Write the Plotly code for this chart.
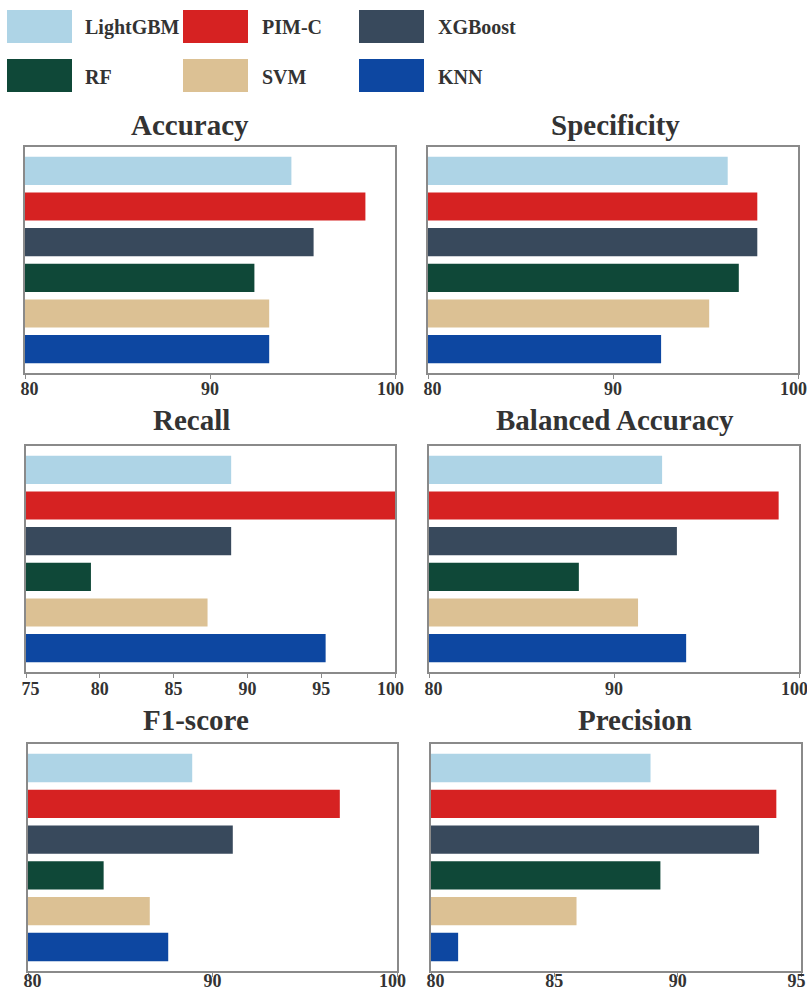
import plotly.graph_objects as go

FW, FH = 807, 992

models = ["LightGBM", "PIM-C", "XGBoost", "RF", "SVM", "KNN"]
colors = ["#AED4E6", "#D62222", "#38495C", "#0F4838", "#DCC194", "#0D47A1"]

metrics = ["Accuracy", "Specificity", "Recall", "Balanced Accuracy", "F1-score", "Precision"]
accuracy = [94.4, 98.4, 95.6, 92.4, 93.2, 93.2]
specificity = [96.2, 97.8, 97.8, 96.8, 95.2, 92.6]
recall = [88.9, 100.0, 88.9, 79.4, 87.3, 95.3]
balanced_accuracy = [92.6, 98.9, 93.4, 88.1, 91.3, 93.9]
f1_score = [88.9, 96.9, 91.1, 84.1, 86.6, 87.6]
precision = [88.9, 94.0, 93.3, 89.3, 85.9, 81.1]
series = [accuracy, specificity, recall, balanced_accuracy, f1_score, precision]

tick_values = [
    [80, 90, 100], [80, 90, 100],
    [75, 80, 85, 90, 95, 100], [80, 90, 100],
    [80, 90, 100], [80, 85, 90, 95],
]

# panel boxes in page pixels: (x0, x1, y0, y1)
boxes = [
    (25, 395, 147, 373), (428, 798, 147, 373),
    (26, 395, 446, 672), (429, 799, 446, 672),
    (28, 397, 744, 971), (431, 801, 744, 971),
]
label_standoff = [-5, -5, -4, -4, -11, -11]
title_pos = [(190, 125), (615, 125), (191, 420), (615, 420), (196, 720), (635, 720)]


def px(x):
    return x / FW


def py(y):
    return 1 - y / FH


NB = "\u00a0"


def tick_text(vals):
    out = []
    for j, v in enumerate(vals):
        s = str(v)
        if j == 0:
            s = NB * 2 + s
        elif j == len(vals) - 1:
            s = s + NB * 2
        out.append(s)
    return out


serif = "Liberation Serif, Times New Roman, serif"
fig = go.Figure()
layout = dict(width=FW, height=FH, margin=dict(l=0, r=0, t=0, b=0, autoexpand=False),
              paper_bgcolor="white", plot_bgcolor="white", showlegend=False)

for i, (name, vals) in enumerate(zip(metrics, series)):
    k = "" if i == 0 else str(i + 1)
    fig.add_trace(go.Bar(y=models, x=vals, orientation="h",
                         marker=dict(color=colors, line=dict(width=0)),
                         width=0.79, xaxis="x" + k, yaxis="y" + k, name=name))
    x0, x1, y0, y1 = boxes[i]
    tv = tick_values[i]
    layout["xaxis" + k] = dict(domain=[px(x0), px(x1)], range=[tv[0], tv[-1]],
                               tickmode="array", tickvals=tv, ticktext=tick_text(tv),
                               ticklabeloverflow="allow", ticklabelstandoff=label_standoff[i],
                               anchor="y" + k, showgrid=False, zeroline=False, automargin=False,
                               showline=True, mirror=True, linecolor="#8a8a8a", linewidth=1.5,
                               ticks="outside", ticklen=4, tickcolor="#8a8a8a",
                               tickfont=dict(family=serif, size=18, color="#333333", weight="bold"))
    layout["yaxis" + k] = dict(domain=[py(y1), py(y0)], anchor="x" + k, automargin=False,
                               type="category", categoryorder="array", categoryarray=models,
                               range=[5.67, -0.67], showgrid=False, zeroline=False,
                               showline=True, mirror=True, linecolor="#8a8a8a", linewidth=1.5,
                               showticklabels=False, ticks="")

annotations = []
for name, (tx, ty) in zip(metrics, title_pos):
    annotations.append(dict(text=name, x=px(tx), y=py(ty), xref="paper", yref="paper",
                            showarrow=False, xanchor="center", yanchor="middle",
                            font=dict(family=serif, size=29, color="#333333", weight="bold")))

shapes = []
leg_box_x = [7, 183, 359]
leg_text_x = [83, 260, 436]
leg_rows = [(10, 43), (59, 92)]
for j, (m, c) in enumerate(zip(models, colors)):
    r, col = divmod(j, 3)
    ya, yb = leg_rows[r]
    shapes.append(dict(type="rect", xref="paper", yref="paper",
                       x0=px(leg_box_x[col]), x1=px(leg_box_x[col] + 65),
                       y0=py(yb), y1=py(ya), fillcolor=c, line=dict(width=0)))
    annotations.append(dict(text=m, x=px(leg_text_x[col]), y=py((ya + yb) / 2 + 1),
                            xref="paper", yref="paper", showarrow=False,
                            xanchor="left", yanchor="middle",
                            font=dict(family=serif, size=20, color="#333333", weight="bold")))

layout["annotations"] = annotations
layout["shapes"] = shapes
fig.update_layout(**layout)
fig.write_html("out.html", config={"displayModeBar": False},
               post_script="document.body.style.margin='0';document.body.style.overflow='hidden';")
